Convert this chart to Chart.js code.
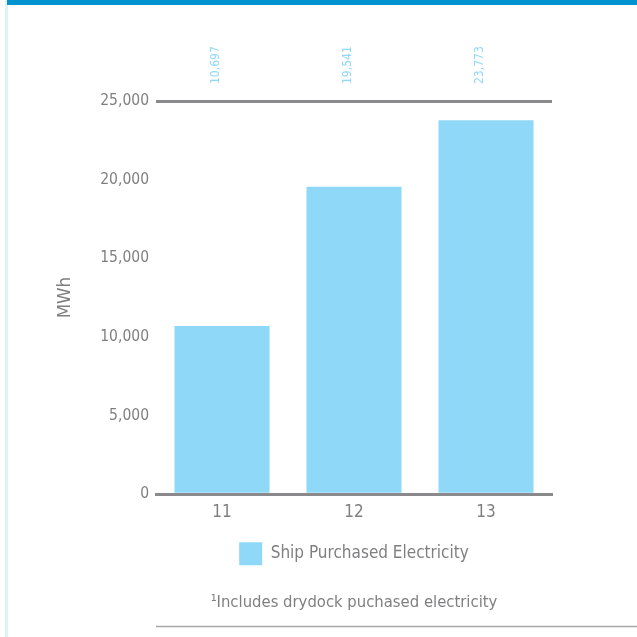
<!DOCTYPE html>
<html>
<head>
<meta charset="utf-8">
<script src="https://cdn.jsdelivr.net/npm/chart.js@4/dist/chart.umd.min.js"></script>
<style>
html,body{margin:0;padding:0;background:#ffffff;}
#wrap{position:absolute;left:0;top:0;width:637px;height:637px;}
</style>
</head>
<body>
<div id="wrap"><canvas id="c" width="637" height="637"></canvas></div>
<script>
const categories = ['11', '12', '13'];
const seriesName = 'Ship Purchased Electricity';
const values = [10697, 19541, 23773];
const yTicks = [0, 5000, 10000, 15000, 20000, 25000];
const yTitle = 'MWh';
const footnote = '\u00B9Includes drydock puchased electricity';

const GRAY = '#7f7f81';
const LINE = '#8a8a8c';
const BAR = '#8fd8f7';
const NARROW = '"Liberation Sans Narrow", "DejaVu Sans Condensed", sans-serif';

const decor = {
  id: 'decor',
  beforeDraw(chart) {
    const ctx = chart.ctx;
    ctx.save();
    ctx.fillStyle = '#e0f1fb';
    ctx.fillRect(5, 0, 3, chart.height);
    ctx.fillStyle = '#0093d0';
    ctx.fillRect(7, 0, chart.width - 7, 5);
    ctx.restore();
  },
  afterDatasetsDraw(chart) {
    const ctx = chart.ctx;
    const meta = chart.getDatasetMeta(0);
    ctx.save();
    ctx.fillStyle = BAR;
    ctx.font = '12px "DejaVu Sans Condensed", "DejaVu Sans", sans-serif';
    ctx.textBaseline = 'middle';
    ctx.textAlign = 'left';
    meta.data.forEach((bar, i) => {
      ctx.save();
      ctx.translate(bar.x - 6, 84);
      ctx.rotate(-Math.PI / 2);
      ctx.fillText(values[i].toLocaleString('en-US'), 0, 0);
      ctx.restore();
    });
    ctx.restore();
  },
  afterDraw(chart) {
    const ctx = chart.ctx;
    const a = chart.chartArea;
    ctx.save();
    ctx.strokeStyle = '#a9a9ab';
    ctx.lineWidth = 1.5;
    ctx.beginPath();
    ctx.moveTo(a.left, 626.5);
    ctx.lineTo(chart.width, 626.5);
    ctx.stroke();
    ctx.restore();
  }
};

new Chart(document.getElementById('c'), {
  type: 'bar',
  data: {
    labels: categories,
    datasets: [{
      label: seriesName,
      data: values,
      backgroundColor: BAR,
      borderWidth: 0,
      categoryPercentage: 0.9,
      barPercentage: 0.8
    }]
  },
  options: {
    responsive: false,
    animation: false,
    devicePixelRatio: 1,
    layout: { padding: { left: 50, right: 85, top: 101, bottom: 18 } },
    scales: {
      x: {
        type: 'category',
        z: 1,
        grid: { display: false, drawTicks: false },
        border: { display: true, color: LINE, width: 3 },
        ticks: { color: GRAY, font: { family: NARROW, size: 17 }, padding: 8 },
        afterFit(s) { s.height = 38; s.paddingLeft = 0; s.paddingRight = 0; }
      },
      y: {
        min: 0,
        max: 25000,
        afterBuildTicks(s) { s.ticks = yTicks.map(v => ({ value: v })); },
        grid: {
          drawTicks: false,
          lineWidth: 3,
          color: (c) => (c.tick && (c.tick.value === 25000 || c.tick.value === 0)) ? LINE : 'rgba(0,0,0,0)'
        },
        border: { display: false },
        ticks: {
          color: GRAY,
          font: { family: NARROW, size: 15.5 },
          padding: 7,
          callback: (v) => Number(v).toLocaleString('en-US')
        },
        title: {
          display: true,
          text: yTitle,
          color: GRAY,
          font: { family: NARROW, size: 18.5 },
          padding: { top: 4, bottom: 4 }
        },
        afterFit(s) { s.width = 106; s.paddingTop = 0; s.paddingBottom = 0; }
      }
    },
    plugins: {
      legend: {
        display: true,
        position: 'bottom',
        fullSize: false,
        labels: {
          color: GRAY,
          font: { family: NARROW, size: 17 },
          boxWidth: 23,
          boxHeight: 23,
          padding: 10
        }
      },
      title: {
        display: true,
        position: 'bottom',
        fullSize: false,
        text: footnote,
        color: GRAY,
        font: { family: NARROW, size: 16.5, weight: 'normal' },
        padding: { top: 18, bottom: 6 }
      },
      tooltip: { enabled: false }
    }
  },
  plugins: [decor]
});
</script>
</body>
</html>
